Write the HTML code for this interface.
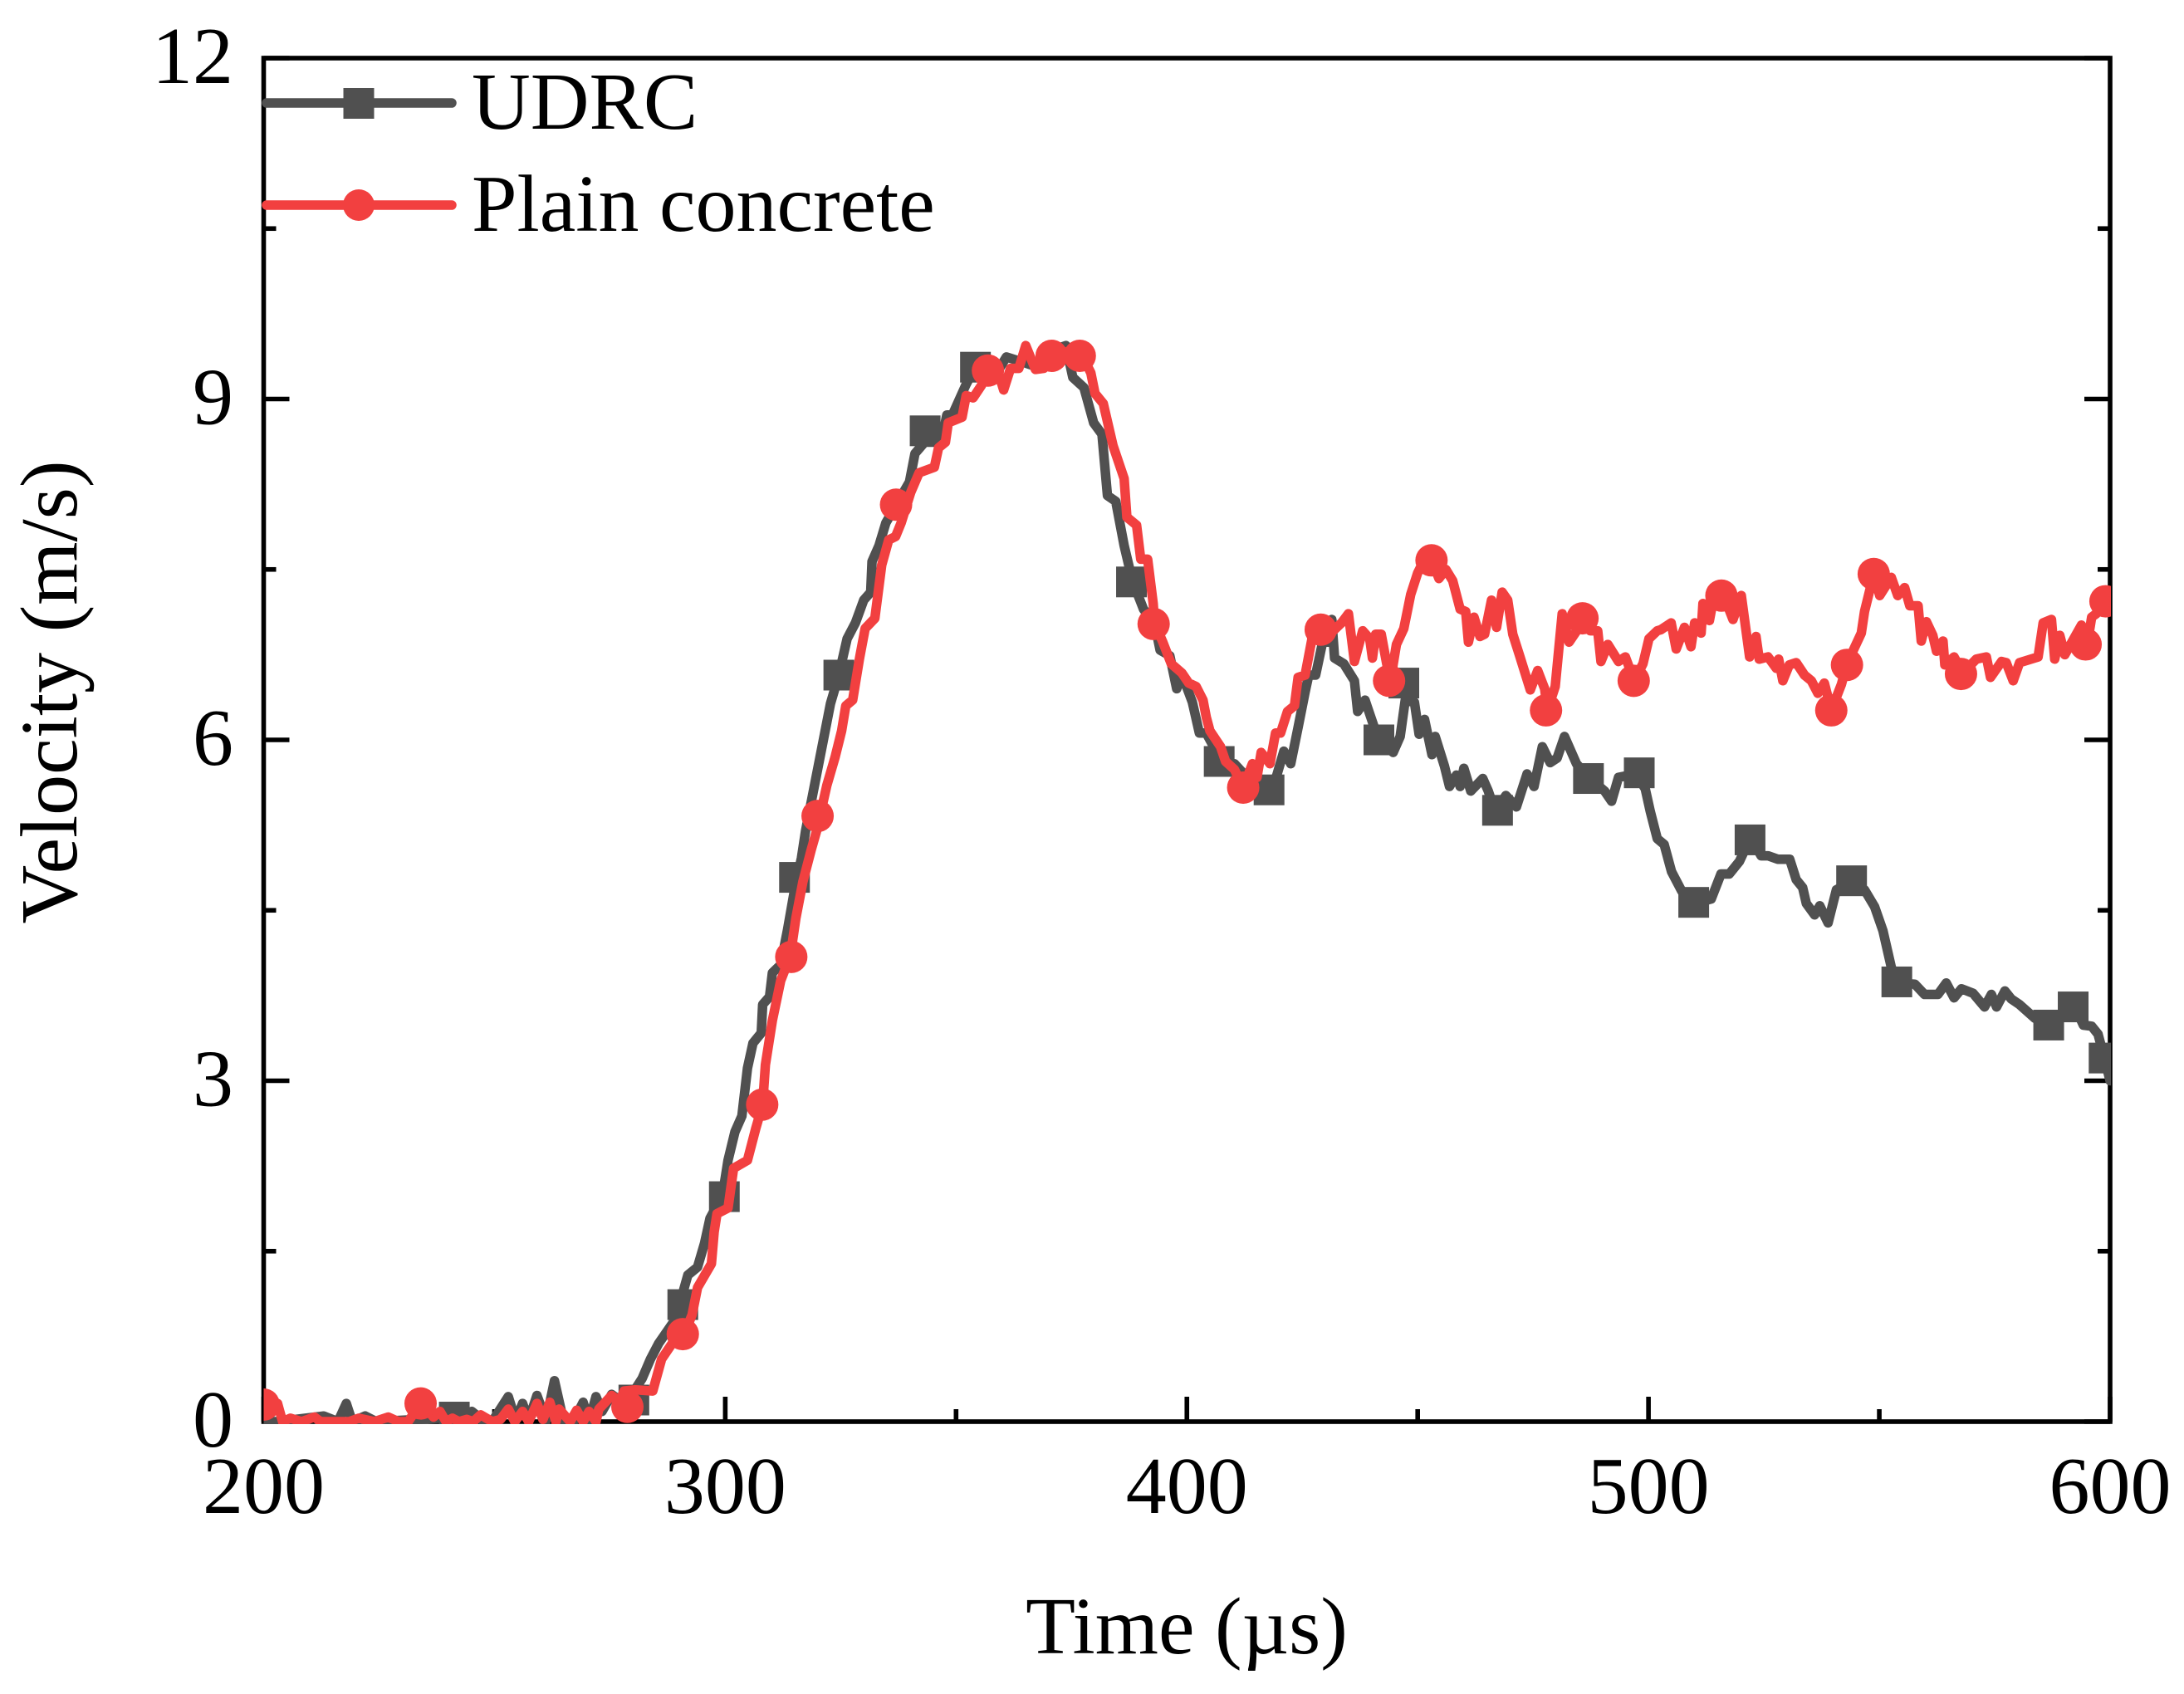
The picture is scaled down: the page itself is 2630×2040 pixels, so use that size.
<!DOCTYPE html>
<html lang="en">
<head>
<meta charset="utf-8">
<title>Velocity vs Time</title>
<style>
html,body{margin:0;padding:0;background:#fff;}
svg{display:block;}
text{font-family:"Liberation Serif",serif;fill:#000;}
</style>
</head>
<body>
<svg id="chart" xmlns="http://www.w3.org/2000/svg" width="2630" height="2040" viewBox="0 0 2630 2040">
<defs><clipPath id="plot-clip"><rect x="317.5" y="67" width="2224.5" height="1648"/></clipPath></defs>
<rect x="0" y="0" width="2630" height="2040" fill="#fff"/>
<g id="axes"></g>
<g id="series" clip-path="url(#plot-clip)"></g>
<text x="1429" y="1991" font-size="98" text-anchor="middle">Time (µs)</text>
<text transform="translate(92,833.5) rotate(-90)" font-size="98" text-anchor="middle">Velocity (m/s)</text>
<g>
  <g>
    <line x1="321" y1="124" x2="544" y2="124" stroke="#505050" stroke-width="11.5" stroke-linecap="round"/>
    <rect x="413.5" y="106" width="37" height="37" fill="#505050"/>
    <text x="568" y="155" font-size="98">UDRC</text>
  </g>
  <g>
    <line x1="321" y1="247" x2="544" y2="247" stroke="#F24040" stroke-width="11.5" stroke-linecap="round"/>
    <circle cx="432" cy="247" r="19" fill="#F24040"/>
    <text x="568" y="278" font-size="98">Plain concrete</text>
  </g>
</g>
</svg>
<script>
const xTickLabels = [200, 300, 400, 500, 600];
const xMinorTicks = [250, 350, 450, 550];
const yTickLabels = [0, 3, 6, 9, 12];
const yMinorTicks = [1.5, 4.5, 7.5, 10.5];

const udrcTimes = [
200,203,213,216.1,217.9,219.2,222,224.4,238.2,241.3,245.1,247.8,249.5,253,254.6,256.1,257.4,259.2,261.2,263,
265,267.1,269.2,270.5,272,273.3,275.4,277.4,279,282,283.8,285.6,289.2,291.9,294,295.5,296.7,299.4,300.6,302.1,
303.6,304.8,306,307.8,308.1,309.6,310.2,312,313.5,315,316.5,317.4,322.8,324.6,326.4,328.2,330,331.5,331.8,333.3,
334.8,337.2,339.9,341.1,343.2,346.8,348,349.2,352.2,354,359.4,360.9,364.8,368.4,370.2,373.8,375.3,377.7,379.8,381.6,
382.8,384.6,386.4,388.2,390.6,393,394.2,396.3,397.8,399,401.2,402.7,404.2,405.8,407,410.3,411.9,415.7,418,419.5,
421,422.5,424.1,425.6,426.4,427.9,429.4,430.5,431.4,432,434,436.3,437,438.6,440.6,441.6,444.7,446.2,447.3,449.3,
450.3,451.5,453.1,453.8,455.8,456.9,458.4,459.2,460,461.5,464.1,465.3,466.8,469.1,471.4,473.7,475.2,477,478.7,480.2,
481.8,484.4,487,490.5,492,493.5,497.3,499.3,500.4,501.9,503.4,505,507.2,510,513.6,515.7,517.5,519.7,522.1,524.4,
525.9,528,530.6,532,533.4,534.2,536,537.1,538.9,540.7,543.9,546.8,549,550.8,552.6,554,557.7,559.8,562.7,564.5,
566.2,567.8,570.3,572.8,574.3,575.4,577.2,578.6,580.4,583.7,587.3,589.1,592.4,594.2,596,597.4,598.7,600
];
const udrcVelocity = [
0,0,0.05,0,0.16,0,0.05,0,0.03,0.04,0.09,0,0,0.22,0.01,0.16,0.01,0.23,0.01,0.36,
0,0,0.17,0,0.22,0.09,0.24,0.18,0.19,0.38,0.55,0.69,0.90,1.29,1.36,1.57,1.79,1.99,2.30,2.55,
2.69,3.11,3.33,3.42,3.67,3.74,3.95,4.02,4.33,4.68,4.96,5.2,6.32,6.57,6.89,7.03,7.23,7.30,7.57,7.71,
7.91,8.08,8.27,8.52,8.62,8.62,8.86,8.86,9.13,9.27,9.27,9.37,9.32,9.27,9.42,9.47,9.19,9.10,8.79,8.69,
8.15,8.10,7.71,7.40,7.15,7.03,6.79,6.74,6.45,6.57,6.33,6.06,6.06,5.94,5.79,5.79,5.72,5.57,5.55,5.69,
5.90,5.79,6.11,6.42,6.57,6.57,6.86,6.86,7.06,6.72,6.67,6.52,6.25,6.35,6.11,5.99,5.89,6.03,6.35,6.33,
6.05,6.18,5.87,6.03,5.77,5.59,5.69,5.59,5.75,5.55,5.66,5.55,5.37,5.51,5.41,5.70,5.59,5.94,5.80,5.84,
6.03,5.79,5.67,5.55,5.46,5.67,5.70,5.57,5.37,5.13,5.08,4.84,4.67,4.56,4.60,4.82,4.82,4.93,5.14,4.98,
4.98,4.95,4.95,4.77,4.70,4.56,4.46,4.54,4.39,4.68,4.75,4.68,4.53,4.32,4.0,3.86,3.85,3.76,3.76,3.86,
3.73,3.81,3.77,3.65,3.76,3.65,3.79,3.72,3.67,3.55,3.48,3.58,3.65,3.49,3.48,3.41,3.21,3.0
];
const udrcMarkerTimes = [241.3,280.2,290.8,299.8,315,324.6,343.3,354.2,388,407,417.8,441.6,447,467.3,487,498,509.8,522,544,553.8,586.7,592,598.7];
const udrcMarkerVelocity = [0.04,0.19,1.03,1.98,4.79,6.57,8.72,9.28,7.39,5.81,5.56,6.0,6.5,5.38,5.66,5.71,4.57,5.12,4.76,3.87,3.49,3.65,3.2];

const plainTimes = [
200,203,204.1,205.8,208.2,211,212.3,213.7,215.4,216.8,218.5,220.6,224,227,229.2,231.3,234,236.8,238.2,239.5,
240.9,242.3,244,245.4,247,249.5,251.3,253,254.4,256.1,257.4,259.2,260.5,262,263.3,264,266.4,267.8,269.2,270.5,
272,272.6,275.4,277.1,278.1,280.5,284.3,286.2,289.2,291,292.8,294,297,297.6,298.2,300.6,301.8,304.8,306.6,308.1,
308.7,310.2,312,314.1,315.3,316.8,318.6,319.8,322,323.8,325.2,326.1,327.6,329.1,330.3,332.4,333.9,335.4,336.9,338.1,
340.2,342,345.3,346.2,347.7,348.3,351.3,352.2,353.7,355.5,357,359.1,360.3,361.8,363.6,365.1,367.2,369,371.1,375,
377.1,379.2,380.1,381.9,384,386.4,387,389.1,390,391.5,392.7,393,394.8,396.6,398.9,400.4,402,403.5,404.2,405,
407.3,408.4,410.3,412.2,414.2,415.2,416.1,418,419.2,420.3,421.8,423.3,424.1,425.6,427.1,429,431.7,433.5,435,436.3,
438.1,439.6,440.2,440.9,442.1,443.3,444.1,445.4,447,448.5,450,451.5,453.1,454.6,456.1,457.6,459.2,460.4,461,462.2,
463.5,464.5,466,467.1,468.3,469.5,470.6,472.1,474.4,476,477.5,478.1,479.8,481.3,482.8,484.8,485.9,487.4,489,489.7,
491.2,493.5,495,496.9,498.8,500.1,501.9,502.7,504.9,506,507.8,509.2,510,511.4,511.8,513.2,514.3,516.1,518.3,520.1,
521.9,523.3,524,525.9,527.7,528.2,529.1,530.5,532,533.8,535.3,536.7,538.1,539.6,541.8,543,546.1,546.8,548.8,550.1,
552.6,554,555.5,556.6,558.4,559.1,560.2,561.6,562.4,563.8,564.2,566.2,568.1,571,573.2,574.1,576.5,577.5,579,580.4,
584.4,585.5,587.3,588,589.1,590.2,593.8,595.1,596,597,598.9,600.3
];
const plainVelocity = [
0.15,0.16,0,0.03,0,0.04,0,0,0,0,0,0.03,0,0.04,0,0,0.16,0.04,0.09,0,
0.03,0,0.02,0,0.06,0,0.02,0.11,0,0.09,0,0.16,0.02,0.17,0,0.11,0,0.10,0,0.09,
0,0.11,0.23,0.18,0.27,0.28,0.27,0.55,0.73,0.76,0.94,1.18,1.39,1.67,1.83,1.88,2.23,2.30,2.58,2.79,
3.14,3.53,3.88,4.10,4.43,4.75,5.03,5.2,5.6,5.85,6.08,6.30,6.35,6.72,6.98,7.07,7.54,7.76,7.79,7.91,
8.18,8.35,8.40,8.57,8.62,8.79,8.84,9.03,9.01,9.12,9.26,9.24,9.08,9.27,9.27,9.47,9.26,9.27,9.40,9.42,
9.40,9.23,9.05,8.96,8.59,8.30,7.96,7.89,7.59,7.59,7.20,7.03,6.86,6.67,6.59,6.50,6.47,6.35,6.20,6.08,
5.94,5.81,5.74,5.58,5.79,5.67,5.89,5.79,6.06,6.06,6.25,6.30,6.55,6.57,6.89,6.99,6.96,7.03,7.11,6.69,
6.96,6.89,6.72,6.93,6.93,6.67,6.52,6.84,6.98,7.28,7.47,7.59,7.58,7.42,7.50,7.40,7.15,7.13,6.86,7.08,
6.91,6.93,7.23,6.99,7.30,7.23,6.93,6.74,6.44,6.61,6.45,6.26,6.47,7.11,6.86,6.98,7.08,6.96,6.96,6.69,
6.84,6.69,6.73,6.52,6.67,6.89,6.96,6.97,7.03,6.80,6.99,6.82,7.03,6.94,7.20,7.05,7.29,7.29,7.06,7.27,
6.73,6.91,6.71,6.73,6.63,6.71,6.52,6.66,6.68,6.57,6.52,6.41,6.50,6.26,6.49,6.67,6.94,7.13,7.46,7.27,
7.43,7.27,7.34,7.18,7.18,6.87,7.04,6.92,6.78,6.87,6.66,6.73,6.59,6.71,6.73,6.55,6.69,6.68,6.52,6.68,
6.73,7.03,7.06,6.71,6.92,6.75,7.01,6.85,7.08,7.11,7.22,7.24
];
const plainMarkerTimes = [200,234,278.8,290.8,308,314.3,320,337,356.9,370.7,376.8,392.8,412.2,429,443.8,453,477.8,485.7,496.8,515.8,539.6,543,548.8,567.7,594.7,599];
const plainMarkerVelocity = [0.15,0.16,0.13,0.77,2.79,4.09,5.33,8.07,9.25,9.38,9.38,7.02,5.58,6.97,6.52,7.58,6.26,7.07,6.52,7.27,6.26,6.66,7.46,6.58,6.84,7.22];

const SVGNS = 'http://www.w3.org/2000/svg';
const plotLeft = 317.5, plotRight = 2541, plotTop = 70, plotBottom = 1712;
const xMin = 200, xMax = 600, yMin = 0, yMax = 12;
function xScale(t) { return plotLeft + (t - xMin) / (xMax - xMin) * (plotRight - plotLeft); }
function yScale(v) { return plotBottom - (v - yMin) / (yMax - yMin) * (plotBottom - plotTop); }

function make(tag, attrs, parent) {
  const el = document.createElementNS(SVGNS, tag);
  for (const k in attrs) el.setAttribute(k, attrs[k]);
  parent.appendChild(el);
  return el;
}

const axes = document.getElementById('axes');
const series = document.getElementById('series');

const frame = make('rect', {x: plotLeft, y: plotTop, width: plotRight - plotLeft, height: plotBottom - plotTop, fill: 'none', stroke: '#000', 'stroke-width': 5.6}, axes);



xTickLabels.forEach(function (t) {
  const tick = make('line', {x1: xScale(t), x2: xScale(t), y1: plotBottom, y2: plotBottom - 30, stroke: '#000', 'stroke-width': 5.6}, axes);
  
  
  const label = make('text', {x: xScale(t), y: 1822, 'font-size': 98, 'text-anchor': 'middle'}, axes);
  
  
  label.textContent = t;
});
xMinorTicks.forEach(function (t) {
  const tick = make('line', {x1: xScale(t), x2: xScale(t), y1: plotBottom, y2: plotBottom - 15, stroke: '#000', 'stroke-width': 5.6}, axes);
  
  
});
yTickLabels.forEach(function (v) {
  const leftTick = make('line', {x1: plotLeft, x2: plotLeft + 31, y1: yScale(v), y2: yScale(v), stroke: '#000', 'stroke-width': 5.6}, axes);
  
  
  const rightTick = make('line', {x1: plotRight, x2: plotRight - 31, y1: yScale(v), y2: yScale(v), stroke: '#000', 'stroke-width': 5.6}, axes);
  
  
  const label = make('text', {x: 281, y: yScale(v) + 30, 'font-size': 98, 'text-anchor': 'end'}, axes);
  
  
  label.textContent = v;
});
yMinorTicks.forEach(function (v) {
  const leftTick = make('line', {x1: plotLeft, x2: plotLeft + 15, y1: yScale(v), y2: yScale(v), stroke: '#000', 'stroke-width': 5.6}, axes);
  
  
  const rightTick = make('line', {x1: plotRight, x2: plotRight - 15, y1: yScale(v), y2: yScale(v), stroke: '#000', 'stroke-width': 5.6}, axes);
  
  
});

function linePoints(ts, vs) {
  return ts.map(function (t, i) { return xScale(t).toFixed(1) + ',' + yScale(vs[i]).toFixed(1); }).join(' ');
}

const udrcLine = make('polyline', {points: linePoints(udrcTimes, udrcVelocity), fill: 'none', stroke: '#505050', 'stroke-width': 11.5, 'stroke-linejoin': 'round', 'stroke-linecap': 'round'}, series);



udrcMarkerTimes.forEach(function (t, i) {
  const m = make('rect', {x: xScale(t) - 18.5, y: yScale(udrcMarkerVelocity[i]) - 18.5, width: 37, height: 37, fill: '#505050'}, series);
  
  
});

const plainLine = make('polyline', {points: linePoints(plainTimes, plainVelocity), fill: 'none', stroke: '#F24040', 'stroke-width': 11.5, 'stroke-linejoin': 'round', 'stroke-linecap': 'round'}, series);



plainMarkerTimes.forEach(function (t, i) {
  const m = make('circle', {cx: xScale(t), cy: yScale(plainMarkerVelocity[i]), r: 19.5, fill: '#F24040'}, series);
  
  
});
</script>
</body>
</html>
